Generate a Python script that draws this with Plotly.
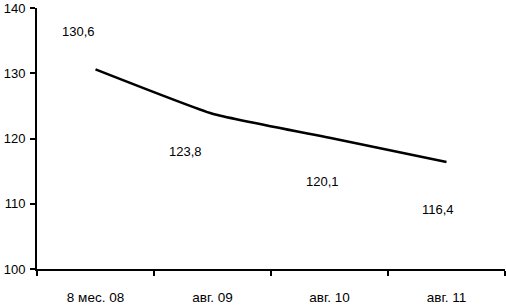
import plotly.graph_objects as go

categories = ["8 мес. 08", "авг. 09", "авг. 10", "авг. 11"]
values = [130.6, 123.8, 120.1, 116.4]
value_labels = ["130,6", "123,8", "120,1", "116,4"]
y_ticks = [100, 110, 120, 130, 140]

# label offsets in pixels (style)
label_xshift = [-17, -27, -7, -9]
label_yshift = [38, -38, -44, -48]

fig = go.Figure()
fig.add_trace(go.Scatter(
    x=categories, y=values, mode="lines",
    line=dict(color="black", width=2.6, shape="spline", smoothing=0.4),
    hoverinfo="skip", showlegend=False,
))

for c, v, t, dx, dy in zip(categories, values, value_labels, label_xshift, label_yshift):
    fig.add_annotation(x=c, y=v, text=t, showarrow=False, xshift=dx, yshift=dy,
                       font=dict(family="Liberation Sans, Arial", size=13, color="black"))

fig.update_layout(
    width=506, height=305,
    margin=dict(l=37, r=1, t=8, b=36, autoexpand=False),
    paper_bgcolor="white", plot_bgcolor="white",
    font=dict(family="Liberation Sans, Arial", size=12, color="black"),
)
fig.update_xaxes(
    type="category", range=[-0.5, 3.5], automargin=False,
    showline=True, linecolor="black", linewidth=2,
    ticks="outside", tickson="boundaries", ticklen=5, tickwidth=2, tickcolor="black",
    showgrid=False, zeroline=False, ticklabelstandoff=15,
    tickfont=dict(size=13.5),
)
fig.update_yaxes(
    range=[100, 140], tickvals=y_ticks, automargin=False,
    showline=True, linecolor="black", linewidth=2,
    ticks="outside", ticklen=5, tickwidth=2, tickcolor="black",
    showgrid=False, zeroline=False, ticklabelstandoff=2,
    tickfont=dict(size=13),
)

fig.write_html("out.html", config={"displayModeBar": False},
               post_script="document.body.style.margin='0';")
